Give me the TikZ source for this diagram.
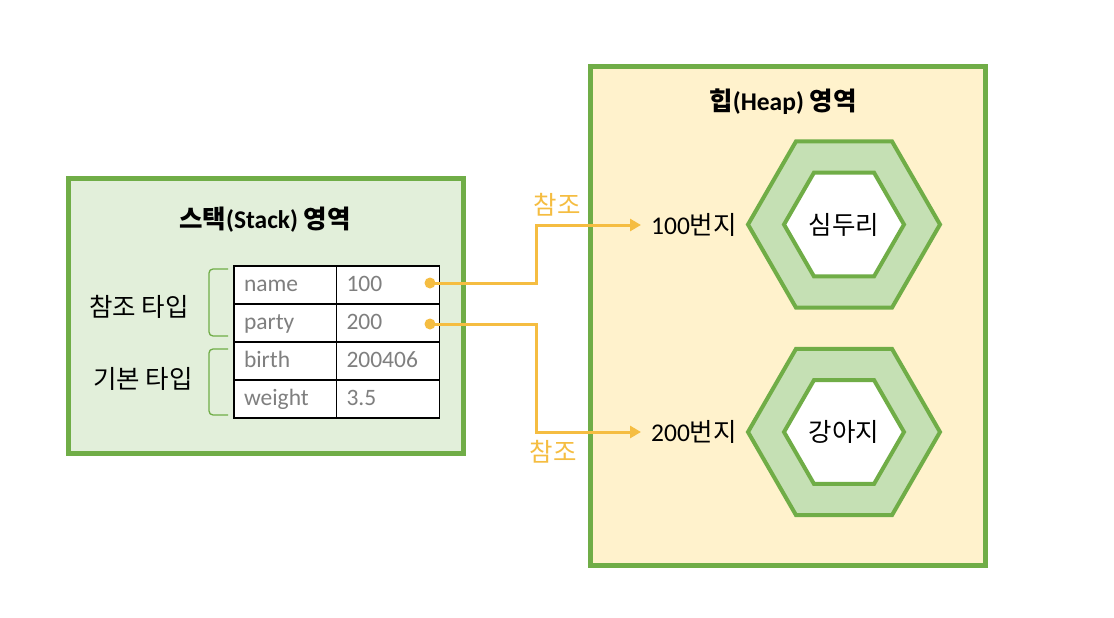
\documentclass[tikz,border=0pt]{standalone}
\usepackage{fontspec}
\setmainfont{Carlito}
\newfontfamily\kr{Noto Sans CJK KR}
\newcommand\K[1]{{\kr\fontsize{25.5}{28}\selectfont #1}}
\usetikzlibrary{shapes.geometric,arrows.meta}
\definecolor{grn}{HTML}{70AD47}
\definecolor{stackfill}{HTML}{E2EFDA}
\definecolor{heapfill}{HTML}{FFF2CC}
\definecolor{hexfill}{HTML}{C5E0B4}
\definecolor{ora}{HTML}{F5BD41}
\definecolor{txtgray}{HTML}{7F7F7F}
\begin{document}
\begin{tikzpicture}[x=1pt,y=-1pt,
  region/.style={draw=grn,line width=5pt,fill=#1},
  cell/.style={draw=black,line width=1.2pt,fill=white,minimum height=38pt,
    inner xsep=10pt,inner ysep=0pt,text width=83pt,align=left,text=txtgray,
    text height=16pt,text depth=4pt,font=\fontsize{23.5}{26}\selectfont},
  big/.style={font=\kr\fontsize{25.5}{28}\selectfont},
  title/.style={font=\fontsize{25.5}{28}\selectfont\bfseries},
  brk/.style={draw=grn,line width=1.3pt,rounded corners=4pt},
  arr/.style={draw=ora,line width=3pt,-{Triangle[length=11pt,width=12pt]}},
  dot/.style={circle,fill=ora,minimum size=11pt,inner sep=0pt},
  hexo/.style={regular polygon,regular polygon sides=6,minimum size=192pt,
    inner sep=0pt,draw=grn,line width=4pt,fill=hexfill},
  hexi/.style={regular polygon,regular polygon sides=6,minimum size=120pt,
    inner sep=0pt,draw=grn,line width=4pt,fill=white,font=\kr\fontsize{25.5}{28}\selectfont},
  addr/.style={anchor=west,inner xsep=0pt,font=\fontsize{25.5}{28}\selectfont}
]
\useasboundingbox[fill=white] (0,0) rectangle (1114,618);

% regions
\draw[region=stackfill] (68,178) rectangle (463,453);
\draw[region=heapfill] (590,67) rectangle (985,565);
\node[title] (stitle) at (265,220) {\K{\bfseries 스택}(Stack) \K{\bfseries 영역}};
\node[title] (htitle) at (783,102) {\K{\bfseries 힙}(Heap) \K{\bfseries 영역}};

% table
\node[cell] (c11) at (285.5,285) {name};
\node[cell] (c12) at (388,285) {100};
\node[cell] (c21) at (285.5,323) {party};
\node[cell] (c22) at (388,323) {200};
\node[cell] (c31) at (285.5,361) {birth};
\node[cell] (c32) at (388,361) {200406};
\node[cell] (c41) at (285.5,399) {weight};
\node[cell] (c42) at (388,399) {3.5};

% brackets and labels
\draw[brk] (228,269) -- (209,269) -- (209,336) -- (228,336);
\draw[brk] (228,349) -- (209,349) -- (209,415) -- (228,415);
\node[big] (ref) at (139,307) {참조 타입};
\node[big] (prim) at (143,379) {기본 타입};

% heap objects
\node[hexo] (h1o) at (844,224.5) {};
\node[hexi] (h1i) at (844,224.5) {심두리};
\node[hexo] (h2o) at (844,432) {};
\node[hexi] (h2i) at (844,432) {강아지};
\node[addr] (a1) at (651,225) {100\K{번지}};
\node[addr] (a2) at (651,432) {200\K{번지}};

% references
\node[dot] (d1) at (430,283) {};
\node[dot] (d2) at (430,324) {};
\draw[arr,shorten >=10pt] (d1.center) -- (536,283) |- (a1.west);
\draw[arr,shorten >=10pt] (d2.center) -- (536,324) |- (a2.west);
\node[big,text=ora] (r1) at (557,205) {참조};
\node[big,text=ora] (r2) at (553,452) {참조};
\end{tikzpicture}
\end{document}
